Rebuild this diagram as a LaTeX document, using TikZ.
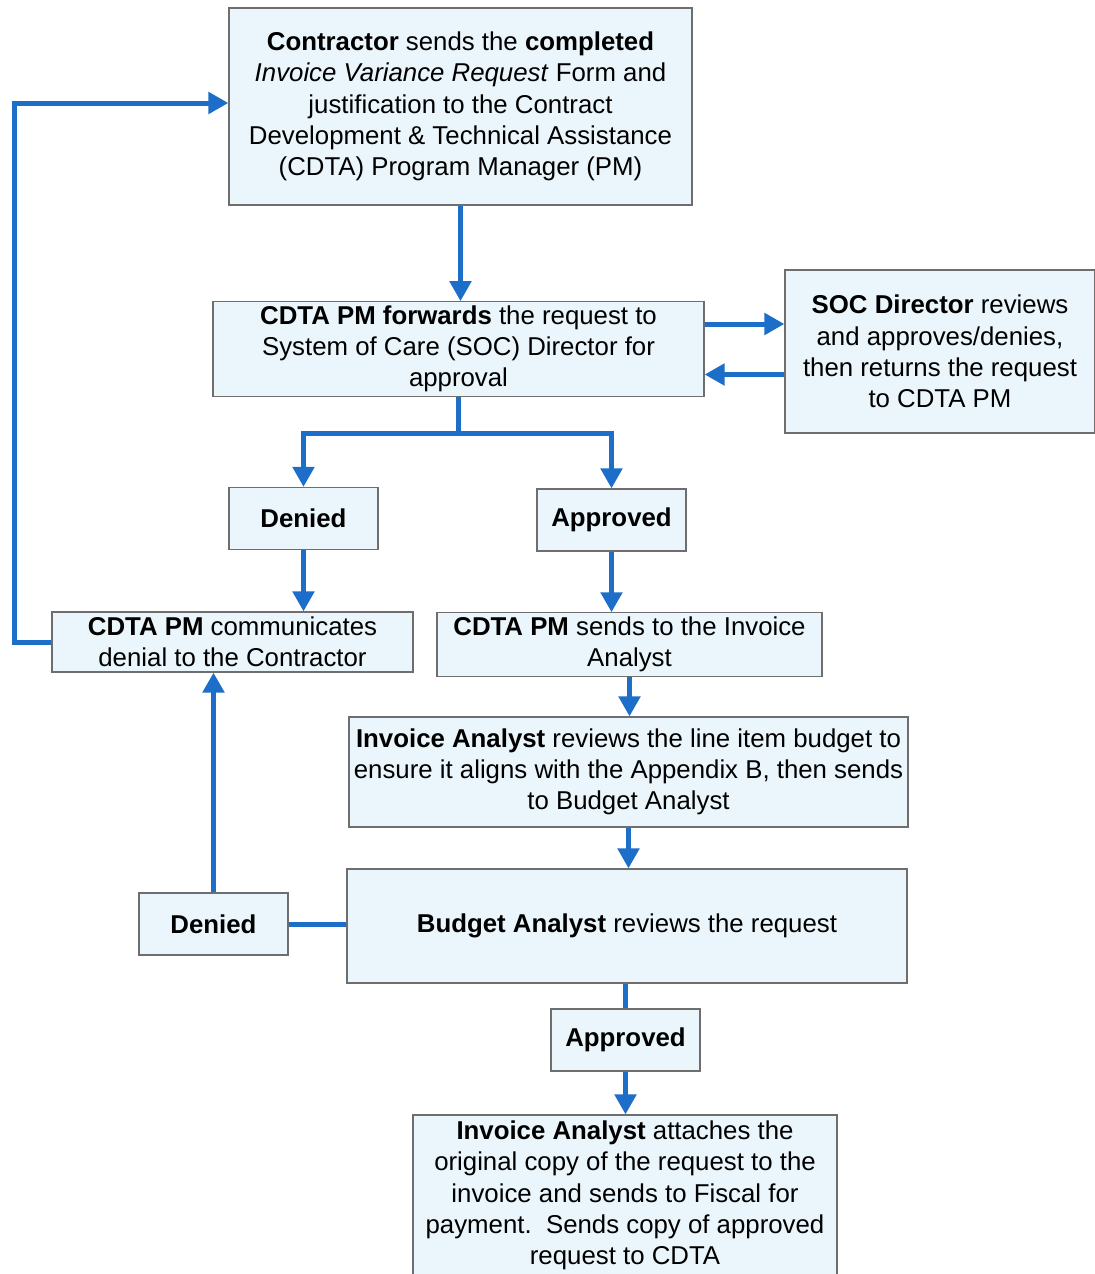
\documentclass[tikz,border=0pt]{standalone}
\usepackage{fontspec}
\setmainfont{Liberation Sans}
\usepackage{tikz}
\usetikzlibrary{arrows.meta,calc}
\definecolor{flowblue}{RGB}{28,110,200}
\definecolor{boxfill}{RGB}{234,246,251}
\definecolor{boxline}{RGB}{110,110,110}
\tikzset{
	invoice flow/.style={
		x=0.5pt,y=-0.5pt,
		font=\fontsize{12.9pt}{15.6pt}\selectfont,
		every node/.style={inner sep=2pt}
	},
	process box/.style={
		rectangle,
		draw=boxline,
		fill=boxfill,
		line width=0.6pt,
		align=center
	},
	outcome box/.style={
		process box,
		minimum width=74.5pt,
		minimum height=31pt,
		font=\fontsize{12.9pt}{15.6pt}\selectfont\bfseries
	},
	flow line/.style={
		draw=flowblue,
		line width=2.5pt
	},
	flow arrow/.style={
		flow line,
		-{Triangle[width=10.5pt,length=10pt]}
	}
}

\begin{document}
\begin{tikzpicture}[invoice flow]
		\useasboundingbox (0,0) rectangle (1095,1274);
		% steps
		\node[process box,minimum width=231.5pt,minimum height=98.5pt] (contractor) at (460.5,106.5)
			{\textbf{Contractor} sends the \textbf{completed}\\
			 \textit{Invoice Variance Request} Form and\\
			 justification to the Contract\\
			 Development \& Technical Assistance\\
			 (CDTA) Program Manager (PM)};
		\node[process box,minimum width=245.5pt,minimum height=47pt] (forward) at (458.5,349)
			{\textbf{CDTA PM forwards} the request to\\
			 System of Care (SOC) Director for\\
			 approval};
		\node[process box,minimum width=155pt,minimum height=81.5pt] (soc) at (940,351.5)
			{\textbf{SOC Director} reviews\\
			 and approves/denies,\\
			 then returns the request\\
			 to CDTA PM};
		\node[outcome box] (denied top) at (303.5,518.5) {Denied};
		\node[outcome box] (approved top) at (611.5,520) {Approved};
		\node[process box,minimum width=180.5pt,minimum height=30pt] (communicate) at (232.5,642)
			{\textbf{CDTA PM} communicates\\
			 denial to the Contractor};
		\node[process box,minimum width=192.5pt,minimum height=30.5pt] (send) at (629.5,644.5)
			{\textbf{CDTA PM} sends to the Invoice\\
			 Analyst};
		\node[process box,minimum width=279.5pt,minimum height=55pt] (invoice) at (628.5,772)
			{\textbf{Invoice Analyst} reviews the line item budget to\\
			 ensure it aligns with the Appendix B, then sends\\
			 to Budget Analyst};
		\node[process box,minimum width=280pt,minimum height=57pt] (budget) at (627,926)
			{\textbf{Budget Analyst} reviews the request};
		\node[outcome box] (denied bottom) at (213.5,924) {Denied};
		\node[outcome box] (approved bottom) at (625.5,1040) {Approved};
		\node[process box,minimum width=212pt,minimum height=80.5pt] (fiscal) at (625,1195.5)
			{\textbf{Invoice Analyst} attaches the\\
			 original copy of the request to the\\
			 invoice and sends to Fiscal for\\
			 payment.\ \ Sends copy of approved\\
			 request to CDTA};
		% connectors
		\draw[flow arrow] (contractor.south) -- (contractor.south |- forward.north);
		\draw[flow arrow] ([yshift=12.5pt]forward.east) -- ([yshift=12.5pt]forward.east -| soc.west);
		\draw[flow arrow] ([yshift=-11.5pt]soc.west) -- ([yshift=-11.5pt]soc.west -| forward.east);
		\coordinate (branch) at ($(forward.south)+(0,37)$);
		\draw[flow line] (forward.south) -- (branch);
		\draw[flow arrow] (branch) -| (denied top.north);
		\draw[flow arrow] (branch) -| (approved top.north);
		\draw[flow arrow] (denied top.south) -- (denied top.south |- communicate.north);
		\draw[flow arrow] (approved top.south) -- (approved top.south |- send.north);
		\draw[flow arrow] (communicate.west) -- ++(-37,0) |- ([yshift=1.75pt]contractor.west);
		\draw[flow arrow] (send.south) -- (send.south |- invoice.north);
		\draw[flow arrow] (invoice.south) -- (invoice.south |- budget.north);
		\draw[flow line] (budget.west |- denied bottom.east) -- (denied bottom.east);
		\draw[flow arrow] (denied bottom.north) -- (denied bottom.north |- communicate.south);
		\draw[flow line] (approved bottom.north |- budget.south) -- (approved bottom.north);
		\draw[flow arrow] (approved bottom.south) -- (approved bottom.south |- fiscal.north);
	\end{tikzpicture}
\end{document}
